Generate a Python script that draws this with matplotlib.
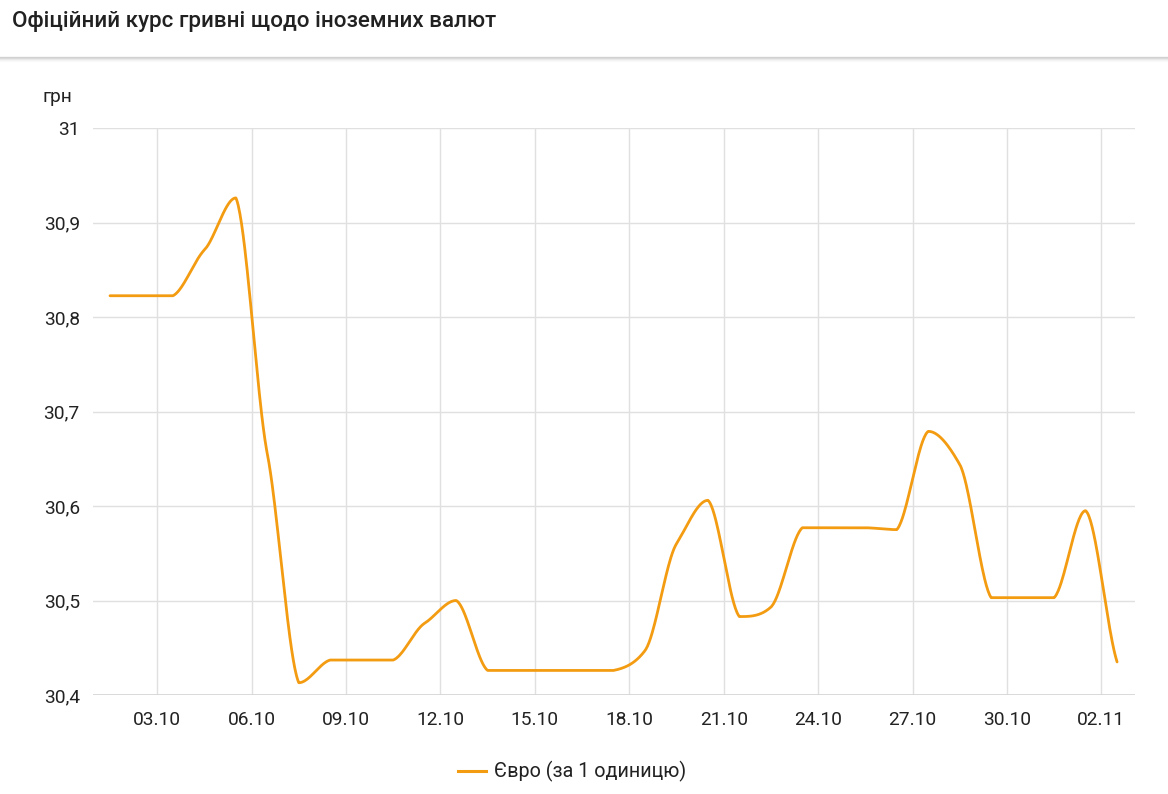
import numpy as np
import matplotlib
matplotlib.use("Agg")
import matplotlib.pyplot as plt
from matplotlib.lines import Line2D

plt.rcParams['font.family'] = ['Roboto', 'DejaVu Sans']

title = "Офіційний курс гривні щодо іноземних валют"
unit_label = "грн"
series_name = "Євро (за 1 одиницю)"

# daily values, 01.10 .. 02.11 (33 points)
values = [30.8225, 30.8225, 30.8225, 30.871, 30.926, 30.655, 30.413, 30.437,
          30.437, 30.437, 30.476, 30.500, 30.426, 30.426, 30.426, 30.426,
          30.426, 30.447, 30.560, 30.606, 30.483, 30.493, 30.577, 30.577,
          30.577, 30.575, 30.679, 30.644, 30.503, 30.503, 30.503, 30.595,
          30.435]
tick_labels = ["03.10", "06.10", "09.10", "12.10", "15.10", "18.10",
               "21.10", "24.10", "27.10", "30.10", "02.11"]
y_ticks = [30.4, 30.5, 30.6, 30.7, 30.8, 30.9, 31.0]
y_tick_labels = ["30,4", "30,5", "30,6", "30,7", "30,8", "30,9", "31"]


def smooth(y, n=40, k=0.22):
    y = np.asarray(y, float)
    N = len(y)
    m = np.zeros(N)
    for i in range(N):
        if i == 0:
            m[i] = y[1] - y[0]
        elif i == N - 1:
            m[i] = y[-1] - y[-2]
        else:
            m[i] = (y[i + 1] - y[i - 1]) / 2
    xs, ys = [], []
    t = np.linspace(0, 1, n)
    for i in range(N - 1):
        lo, hi = min(y[i], y[i + 1]), max(y[i], y[i + 1])
        p0, p3 = y[i], y[i + 1]
        c1 = np.clip(p0 + m[i] * k, lo, hi)
        c2 = np.clip(p3 - m[i + 1] * k, lo, hi)
        by = (1 - t) ** 3 * p0 + 3 * (1 - t) ** 2 * t * c1 + 3 * (1 - t) * t ** 2 * c2 + t ** 3 * p3
        bx = i + t
        xs.append(bx[:-1] if i < N - 2 else bx)
        ys.append(by[:-1] if i < N - 2 else by)
    return np.concatenate(xs), np.concatenate(ys)


W, H = 1168, 794
fig = plt.figure(figsize=(W / 100, H / 100), dpi=100)
fig.patch.set_facecolor('white')

# header
fig.text(12 / W, 1 - 21 / H, title, fontsize=16.1, color='#212121',
         fontweight='medium', va='center', ha='left')
for k, a in enumerate([0.16, 0.10, 0.06, 0.03, 0.015]):
    yy = 1 - (57 + k) / H
    fig.add_artist(Line2D([0, 1], [yy, yy], transform=fig.transFigure,
                          color='black', alpha=a, lw=1))

left, right, top, bottom = 93, 1135, 128, 695
ax = fig.add_axes([left / W, 1 - bottom / H, (right - left) / W, (bottom - top) / H])

xs, ys = smooth(values)
ax.plot(xs, ys, color='#f39c12', lw=2.0, solid_capstyle='round', zorder=3)

ax.set_xlim(-0.54, 32.57)
ax.set_ylim(30.4, 31.0)
xt = [1.5 + 3 * k for k in range(len(tick_labels))]
ax.set_xticks(xt)
ax.set_xticklabels(tick_labels)
ax.set_yticks(y_ticks)
ax.set_yticklabels(y_tick_labels)
ax.tick_params(axis='both', length=0, labelsize=13.8, colors='#222222')
ax.tick_params(axis='x', pad=11.5)
ax.tick_params(axis='y', pad=9.5)
ax.grid(True, color='#e0e0e0', lw=1)
ax.set_axisbelow(True)
for s in ax.spines.values():
    s.set_visible(False)
ax.axhline(30.4, color='#d4d4d4', lw=1.2, zorder=1)

fig.text(57 / W, 1 - 97 / H, unit_label, fontsize=13.8, color='#222222',
         ha='center', va='center')

# legend
ly = 1 - 771 / H
fig.add_artist(Line2D([458 / W, 486 / W], [ly, ly], transform=fig.transFigure,
                      color='#f39c12', lw=2.2))
fig.text(494 / W, ly, series_name, fontsize=14.2, color='#222222',
         ha='left', va='center')

fig.savefig('out.png', dpi=100, facecolor='white')
